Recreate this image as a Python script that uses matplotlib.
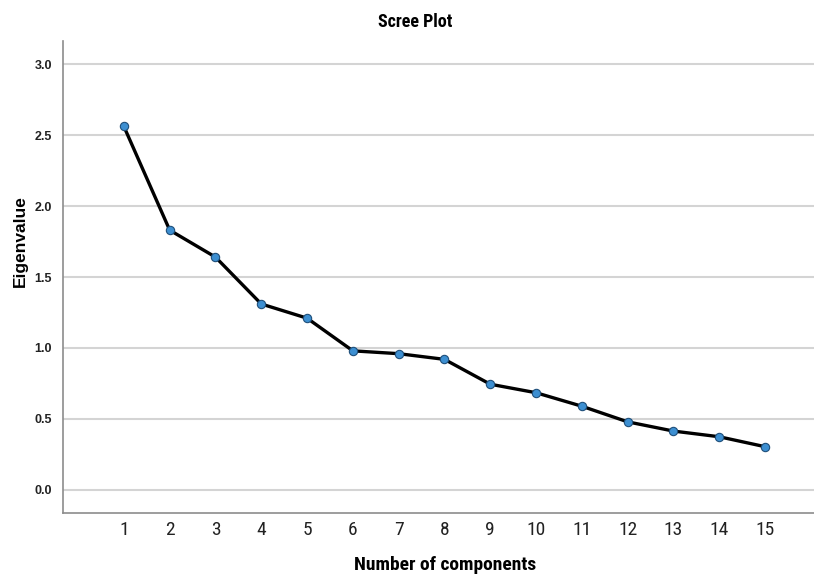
import matplotlib.pyplot as plt
from matplotlib import font_manager

components = [1, 2, 3, 4, 5, 6, 7, 8, 9, 10, 11, 12, 13, 14, 15]
eigenvalues = [2.56, 1.83, 1.64, 1.31, 1.21, 0.98, 0.96, 0.92, 0.745, 0.685,
               0.59, 0.48, 0.415, 0.375, 0.305]
yticks = [0.0, 0.5, 1.0, 1.5, 2.0, 2.5, 3.0]

names = sorted({f.name for f in font_manager.fontManager.ttflist})
narrow = "DejaVu Sans"
for n in ["Liberation Sans Narrow", "Roboto Condensed", "Open Sans Condensed"]:
    if n in names:
        narrow = n
        break

fig = plt.figure(figsize=(8.14, 5.81), dpi=100)
ax = fig.add_axes([63 / 814, 1 - 513 / 581, 1 - 63 / 814, (513 - 41) / 581])

ax.plot(components, eigenvalues, color="black", lw=2.4, zorder=3,
        marker="o", markersize=6, markerfacecolor="#3d8fd1",
        markeredgecolor="#1f4f7a", markeredgewidth=0.8)

ax.set_xlim(-0.33, 16.07)
ax.set_ylim(-0.162, 3.162)
ax.set_xticks(components)
ax.set_xticklabels([str(c) for c in components], fontfamily=narrow,
                   fontstretch="condensed", fontsize=14, color="#222222")
ax.set_yticks(yticks)
ax.set_yticklabels(["%.1f" % v for v in yticks], fontfamily="Liberation Sans",
                   fontweight="bold", fontsize=9, color="#222222")
ax.tick_params(axis="both", length=0)
ax.tick_params(axis="x", pad=6)
ax.tick_params(axis="y", pad=8)

ax.grid(axis="y", color="#d4d4d4", lw=1.5)
ax.set_axisbelow(True)
for s in ["top", "right"]:
    ax.spines[s].set_visible(False)
for s in ["left", "bottom"]:
    ax.spines[s].set_color("#8c8c8c")
    ax.spines[s].set_linewidth(1.2)

fig.text(415 / 814, 1 - 22 / 581, "Scree Plot", ha="center", va="center",
         fontfamily=narrow, fontstretch="condensed", fontweight="bold", fontsize=13)
fig.text(445 / 814, 1 - 565 / 581, "Number of components", ha="center", va="center",
         fontfamily=narrow, fontstretch="condensed", fontweight="bold", fontsize=14)
fig.text(20 / 814, 1 - 241 / 581, "Eigenvalue", ha="center", va="center", rotation=90,
         fontfamily="Liberation Sans", fontweight="bold", fontsize=12.5)

fig.savefig("out.png", dpi=100)
